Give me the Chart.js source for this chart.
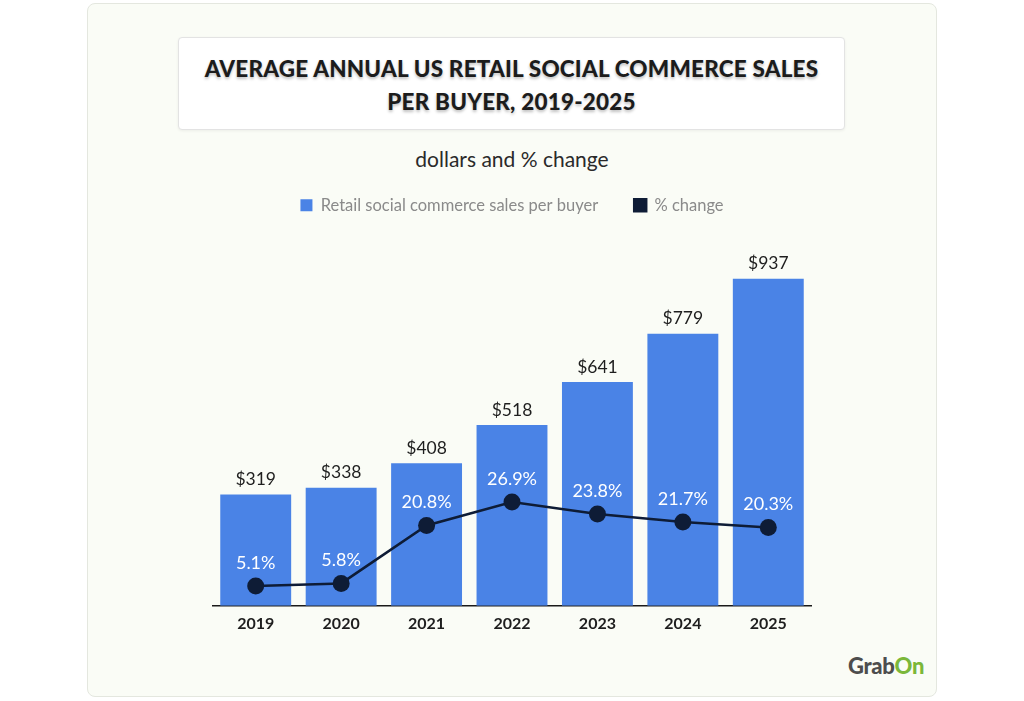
<!DOCTYPE html>
<html>
<head>
<meta charset="utf-8">
<script src="https://cdn.jsdelivr.net/npm/chart.js@4.4.0/dist/chart.umd.min.js"></script>
<style>
  html, body { margin: 0; padding: 0; background: #ffffff; }
  body { width: 1024px; height: 701px; position: relative; font-family: Lato, "Open Sans", sans-serif; }
  .card {
    position: absolute; left: 87px; top: 3px; width: 848px; height: 692px;
    background: #fafcf6; border: 1px solid #e4e7df; border-radius: 8px;
  }
  .titlebox {
    position: absolute; left: 178px; top: 37px; width: 667px; height: 93px;
    background: #ffffff; border: 1px solid #e3e3e3; border-radius: 4px;
    box-shadow: 0 1px 3px rgba(0,0,0,0.06);
    text-align: center; font-family: Lato, sans-serif; font-weight: 900;
    font-size: 22.5px; line-height: 33px; color: #1c1c1c; letter-spacing: 0.2px;
    text-shadow: 0 2px 3px rgba(0,0,0,0.25);
    padding-top: 14px; box-sizing: border-box;
  }
  .subtitle {
    position: absolute; left: 87px; width: 850px; top: 146px; text-align: center;
    font-family: Lato, sans-serif; font-size: 21px; color: #2a2a2a;
  }
  .logo {
    position: absolute; left: 848px; top: 652px; font-family: Lato, sans-serif;
    font-weight: 900; font-size: 22px; color: #4d4d4d; letter-spacing: -0.3px;
  }
  .logo span { color: #7bb73a; }
  #wrap { position: absolute; left: 87px; top: 161px; width: 850px; height: 480px; }
</style>
</head>
<body>
<div class="card"></div>
<div class="titlebox">AVERAGE ANNUAL US RETAIL SOCIAL COMMERCE SALES<br>PER BUYER, 2019-2025</div>
<div class="subtitle">dollars and % change</div>
<div class="logo">Grab<span>On</span></div>
<div id="wrap"><canvas id="chart"></canvas></div>
<script>
const years = ['2019', '2020', '2021', '2022', '2023', '2024', '2025'];
const salesPerBuyer = [319, 338, 408, 518, 641, 779, 937];
const pctChange = [5.1, 5.8, 20.8, 26.9, 23.8, 21.7, 20.3];

const valueLabels = {
  id: 'valueLabels',
  afterDatasetsDraw(chart) {
    const ctx = chart.ctx;
    ctx.save();
    ctx.textAlign = 'center';
    ctx.textBaseline = 'middle';
    ctx.font = '17.5px Lato, sans-serif';
    chart.getDatasetMeta(0).data.forEach((bar, i) => {
      ctx.fillStyle = '#1e1e1e';
      ctx.fillText('$' + salesPerBuyer[i], bar.x, bar.y - 15);
    });
    ctx.font = '18px Lato, sans-serif';
    chart.getDatasetMeta(1).data.forEach((pt, i) => {
      ctx.fillStyle = '#ffffff';
      ctx.fillText(pctChange[i].toFixed(1) + '%', pt.x, pt.y - 23);
    });
    ctx.restore();
  }
};

new Chart(document.getElementById('chart'), {
  data: {
    labels: years,
    datasets: [{
      type: 'bar',
      label: 'Retail social commerce sales per buyer',
      data: salesPerBuyer,
      backgroundColor: '#4a83e6',
      yAxisID: 'y',
      categoryPercentage: 0.83,
      barPercentage: 1,
      order: 2
    }, {
      type: 'line',
      label: '% change',
      data: pctChange,
      borderColor: '#0e1c36',
      backgroundColor: '#0e1c36',
      borderWidth: 2.5,
      pointRadius: 8.5,
      pointBackgroundColor: '#0e1c36',
      pointBorderWidth: 0,
      yAxisID: 'y1',
      order: 1
    }]
  },
  options: {
    responsive: true,
    maintainAspectRatio: false,
    animation: false,
    layout: { padding: { left: 126, right: 126, top: 0, bottom: 0 } },
    plugins: {
      legend: {
        labels: {
          boxWidth: 12, boxHeight: 12, padding: 36,
          color: '#8a8a8a',
          font: { family: 'Lato', size: 16.5 },
          sort: (a, b) => a.datasetIndex - b.datasetIndex
        }
      },
      tooltip: { enabled: false }
    },
    scales: {
      x: {
        grid: { display: false, drawTicks: false },
        border: { color: '#1a1a1a', width: 1.5 },
        ticks: { color: '#1e1e1e', font: { family: 'Lato', size: 16, weight: 'bold' }, padding: 8 }
      },
      y: { display: false, min: 0, max: 1095 },
      y1: { display: false, min: 0, max: 99 }
    }
  },
  plugins: [valueLabels]
});
</script>
</body>
</html>
